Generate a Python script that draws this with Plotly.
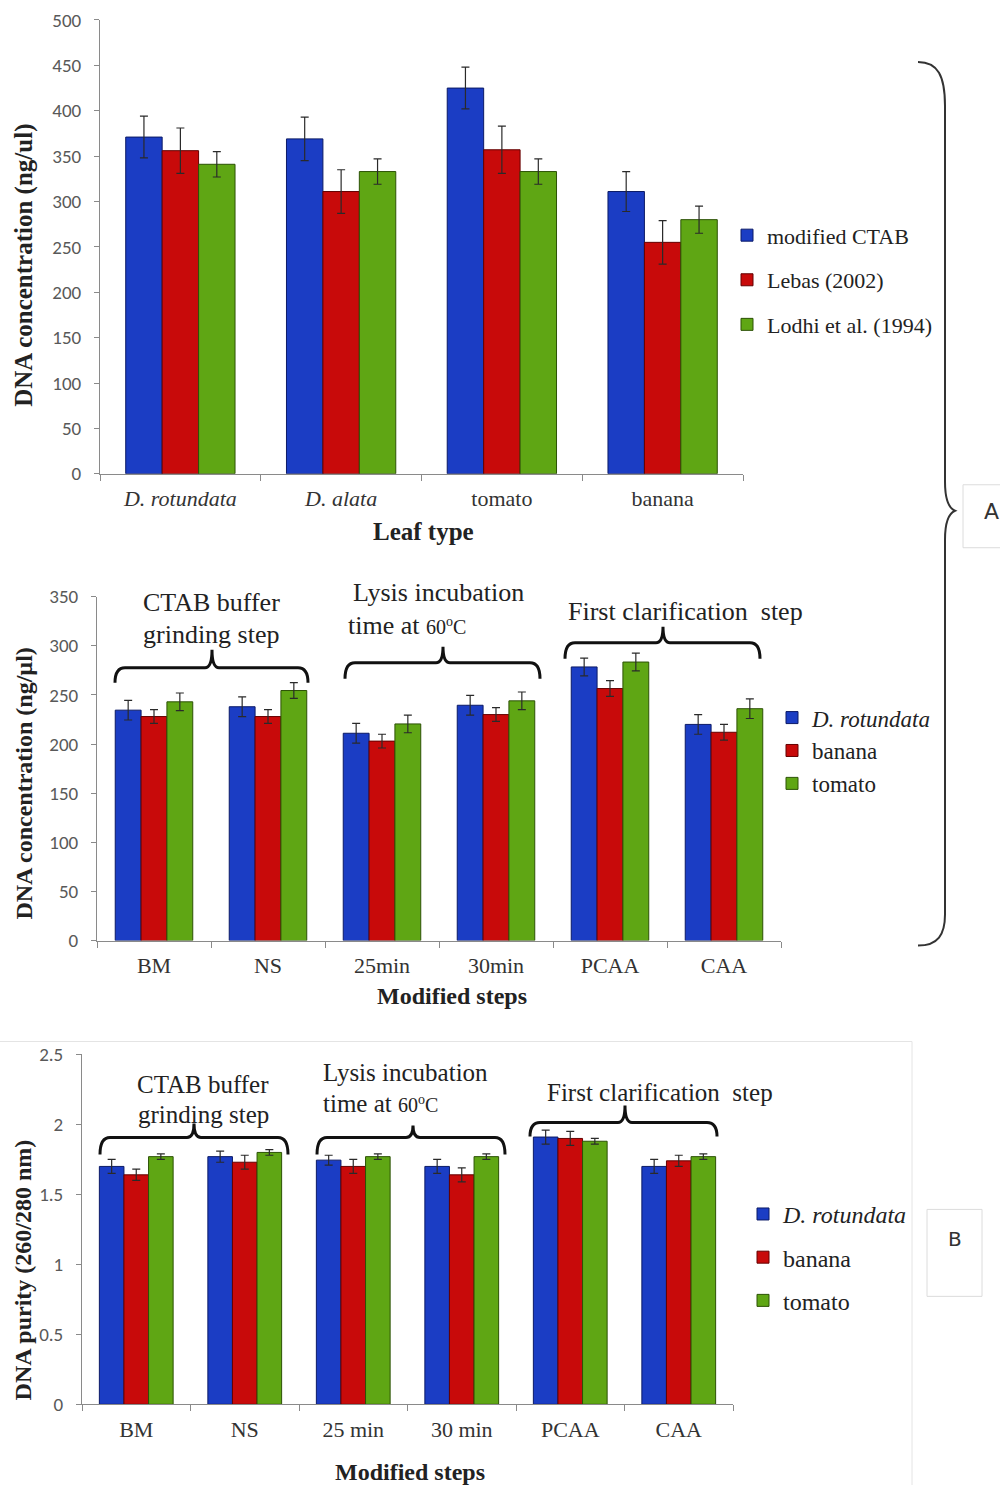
import plotly.graph_objects as go

W, H = 1000, 1485

# ---------------- data ----------------
leaf_types = ["D. rotundata", "D. alata", "tomato", "banana"]
leaf_tick_text = ["<i>D. rotundata</i>", "<i>D. alata</i>", "tomato", "banana"]
ctab_vals = [371, 369, 425, 311]
ctab_err = [23, 24, 23, 22]
lebas_vals = [356, 311, 357, 255]
lebas_err = [25, 24, 26, 24]
lodhi_vals = [341, 333, 333, 280]
lodhi_err = [14, 14, 14, 15]

steps_conc = ["BM", "NS", "25min", "30min", "PCAA", "CAA"]
conc_drot = [234.5, 238, 211, 239.5, 278.5, 220]
conc_drot_err = [10, 10, 10, 10, 9, 10]
conc_banana = [228, 228, 203, 230, 256.5, 212]
conc_banana_err = [7, 7, 7, 7, 8, 8]
conc_tomato = [243, 254.5, 220.5, 244, 283.5, 236]
conc_tomato_err = [9, 8, 9, 9, 9, 10]

steps_pur = ["BM", "NS", "25 min", "30 min", "PCAA", "CAA"]
pur_drot = [1.70, 1.77, 1.745, 1.70, 1.91, 1.70]
pur_drot_err = [0.05, 0.04, 0.035, 0.05, 0.05, 0.05]
pur_banana = [1.64, 1.73, 1.70, 1.64, 1.90, 1.74]
pur_banana_err = [0.04, 0.05, 0.05, 0.05, 0.05, 0.04]
pur_tomato = [1.77, 1.80, 1.77, 1.77, 1.88, 1.77]
pur_tomato_err = [0.02, 0.02, 0.02, 0.02, 0.02, 0.02]

# ---------------- style ----------------
BLUE, BLUE_L = "#1b3dc4", "#0b1a66"
RED, RED_L = "#c80a0a", "#640000"
GREEN, GREEN_L = "#5fa614", "#2c5205"
SERIF = "Liberation Serif, Times New Roman, serif"
SANS = "Carlito, Calibri, Open Sans, sans-serif"
TICKGRAY = "#595959"
AXGRAY = "#8a8a8a"


def px(x):
    return x / W


def py(y):
    yc = (y - 11) / 0.985
    return 1 - yc / H


def err(vals):
    return dict(type="data", array=vals, visible=True, color="#2a2a2a",
                thickness=1.2, width=4)


fig = go.Figure()


def add_bar(x, y, e, name, color, lcolor, xa, ya, legend, group):
    fig.add_trace(go.Bar(
        x=x, y=y, name=name, error_y=err(e),
        marker=dict(color=color, line=dict(color=lcolor, width=1)),
        xaxis=xa, yaxis=ya, legend=legend, legendgroup=group))


add_bar(leaf_types, ctab_vals, ctab_err, "modified CTAB", BLUE, BLUE_L, "x", "y", "legend", "a1")
add_bar(leaf_types, lebas_vals, lebas_err, "Lebas (2002)", RED, RED_L, "x", "y", "legend", "a2")
add_bar(leaf_types, lodhi_vals, lodhi_err, "Lodhi et al. (1994)", GREEN, GREEN_L, "x", "y", "legend", "a3")

add_bar(steps_conc, conc_drot, conc_drot_err, "<i>D. rotundata</i>", BLUE, BLUE_L, "x2", "y2", "legend2", "b1")
add_bar(steps_conc, conc_banana, conc_banana_err, "banana", RED, RED_L, "x2", "y2", "legend2", "b2")
add_bar(steps_conc, conc_tomato, conc_tomato_err, "tomato", GREEN, GREEN_L, "x2", "y2", "legend2", "b3")

add_bar(steps_pur, pur_drot, pur_drot_err, "<i>D. rotundata</i>", BLUE, BLUE_L, "x3", "y3", "legend3", "c1")
add_bar(steps_pur, pur_banana, pur_banana_err, "banana", RED, RED_L, "x3", "y3", "legend3", "c2")
add_bar(steps_pur, pur_tomato, pur_tomato_err, "tomato", GREEN, GREEN_L, "x3", "y3", "legend3", "c3")


def xaxis(domain, anchor, size, ticktext=None, tickvals=None):
    d = dict(domain=domain, anchor=anchor, showline=True, linecolor=AXGRAY, linewidth=1,
             ticks="outside", tickson="boundaries", ticklen=6, tickcolor=AXGRAY,
             showgrid=False, zeroline=False, fixedrange=True,
             tickfont=dict(family=SERIF, size=size, color="#333333"), ticklabelstandoff=5)
    if ticktext is not None:
        d.update(tickmode="array", tickvals=tickvals, ticktext=ticktext)
    return d


def yaxis(domain, anchor, rng, dtick, size):
    return dict(domain=domain, anchor=anchor, range=rng, dtick=dtick, showline=True,
                linecolor=AXGRAY, linewidth=1, ticks="outside", ticklen=5, tickcolor=AXGRAY,
                showgrid=False, zeroline=False, fixedrange=True,
                tickfont=dict(family=SANS, size=size, color=TICKGRAY), ticklabelstandoff=9)


fig.update_layout(
    width=W, height=H, margin=dict(l=0, r=0, t=0, b=0),
    paper_bgcolor="white", plot_bgcolor="rgba(0,0,0,0)",
    barmode="group", bargap=0.32, bargroupgap=0,
    xaxis=xaxis([px(100), px(743)], "y", 22, leaf_tick_text, leaf_types),
    yaxis=yaxis([py(474), py(20)], "x", [0, 500], 50, 19),
    xaxis2=xaxis([px(97), px(781)], "y2", 22),
    yaxis2=yaxis([py(941), py(597)], "x2", [0, 350], 50, 19),
    xaxis3=xaxis([px(82), px(733)], "y3", 22),
    yaxis3=yaxis([py(1405), py(1055)], "x3", [0, 2.5], 0.5, 19),
    legend=dict(x=px(727), xanchor="left", y=py(280), yanchor="middle",
                font=dict(family=SERIF, size=22, color="#222"), tracegroupgap=13,
                bgcolor="rgba(0,0,0,0)", itemclick=False, itemdoubleclick=False),
    legend2=dict(x=px(772), xanchor="left", y=py(751), yanchor="middle",
                 font=dict(family=SERIF, size=23, color="#222"), tracegroupgap=0,
                 bgcolor="rgba(0,0,0,0)", itemclick=False, itemdoubleclick=False),
    legend3=dict(x=px(743), xanchor="left", y=py(1258), yanchor="middle",
                 font=dict(family=SERIF, size=24, color="#222"), tracegroupgap=9,
                 bgcolor="rgba(0,0,0,0)", itemclick=False, itemdoubleclick=False),
)

ann = []


def text(x, y, t, size, bold=False, angle=0, family=SERIF, color="#222", xanchor="center"):
    if bold:
        t = "<b>" + t + "</b>"
    ann.append(dict(x=px(x), y=py(y), xref="paper", yref="paper", text=t, showarrow=False,
                    textangle=angle, xanchor=xanchor, yanchor="middle",
                    font=dict(family=family, size=size, color=color)))


# axis titles
text(24, 266, "DNA concentration (ng/ul)", 25, bold=True, angle=-90)
text(423, 532, "Leaf type", 25, bold=True)
text(24, 784, "DNA concentration (ng/µl)", 24, bold=True, angle=-90)
text(452, 996, "Modified steps", 24, bold=True)
text(23, 1271, "DNA purity (260/280 nm)", 24, bold=True, angle=-90)
text(410, 1473, "Modified steps", 24, bold=True)

# group labels panel 2
deg = "time at <span style='font-size:20px'>60<sup>o</sup>C</span>"
text(211, 603, "CTAB buffer", 26)
text(211, 635, "grinding step", 26)
text(351, 593, "Lysis incubation", 26, xanchor="left")
text(346, 626, deg, 26, xanchor="left")
text(685, 612, "First clarification  step", 26)
# group labels panel 3
text(203, 1085, "CTAB buffer", 25)
text(203, 1115, "grinding step", 25)
text(321, 1073, "Lysis incubation", 25, xanchor="left")
text(321, 1104, deg, 25, xanchor="left")
text(660, 1093, "First clarification  step", 25)

# panel labels
text(991, 512, "A", 22, family="DejaVu Sans, sans-serif", color="#333")
text(955, 1240, "B", 20, family="DejaVu Sans, sans-serif", color="#333")

fig.update_layout(annotations=ann)

shapes = []


def path_from(cmds):
    out = []
    for c, pts in cmds:
        s = c
        s += " ".join("%.5f,%.5f" % (px(a), py(b)) for a, b in pts)
        out.append(s)
    return " ".join(out)


def small_brace(x0, x1, xc, yb, yh, yt):
    p = path_from([
        ("M", [(x0, yb)]),
        ("Q", [(x0, yh), (x0 + 10, yh)]),
        ("L", [(xc - 7, yh)]),
        ("Q", [(xc, yh), (xc, yt)]),
        ("Q", [(xc, yh), (xc + 7, yh)]),
        ("L", [(x1 - 10, yh)]),
        ("Q", [(x1, yh), (x1, yb)]),
    ])
    shapes.append(dict(type="path", path=p, xref="paper", yref="paper",
                       line=dict(color="#111", width=3)))


small_brace(115, 308, 212, 683, 668, 650)
small_brace(345, 540, 443, 679, 663, 647)
small_brace(565, 760, 663, 659, 643, 627)
small_brace(100, 288, 194, 1155, 1138, 1124)
small_brace(317, 505, 413, 1155, 1138, 1126)
small_brace(530, 717, 625, 1137, 1123, 1106)

# big brace for A
big = path_from([
    ("M", [(918, 62)]),
    ("C", [(938, 62), (945, 76), (945, 106)]),
    ("L", [(945, 482)]),
    ("C", [(945, 499), (948, 508), (955, 511)]),
    ("C", [(948, 514), (945, 523), (945, 540)]),
    ("L", [(945, 915)]),
    ("C", [(945, 935), (938, 946), (918, 946)]),
])
shapes.append(dict(type="path", path=big, xref="paper", yref="paper",
                   line=dict(color="#333", width=2)))

# boxes
shapes.append(dict(type="rect", xref="paper", yref="paper", x0=px(963), x1=px(1006),
                   y0=py(548), y1=py(485), line=dict(color="#dcdcdc", width=1)))
shapes.append(dict(type="rect", xref="paper", yref="paper", x0=px(927), x1=px(982),
                   y0=py(1297), y1=py(1210), line=dict(color="#dcdcdc", width=1)))
# frame of panel B
shapes.append(dict(type="rect", xref="paper", yref="paper", x0=px(-2), x1=px(912),
                   y0=-0.02, y1=py(1042), line=dict(color="#e4e4e4", width=1)))

fig.update_layout(shapes=shapes)

fig.write_html("out.html")
